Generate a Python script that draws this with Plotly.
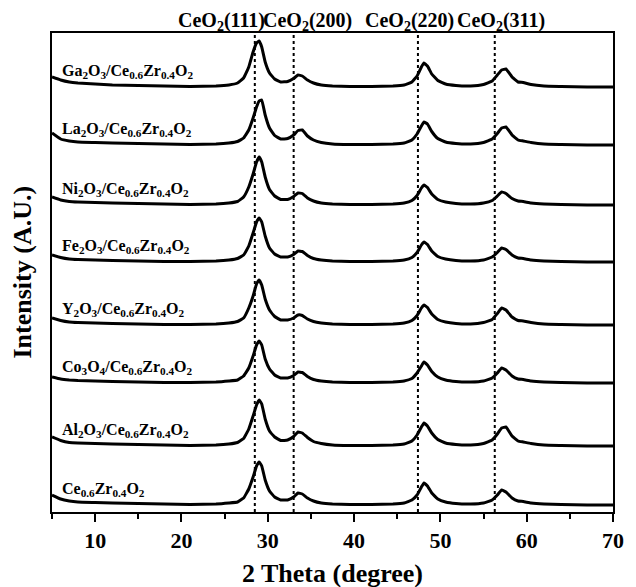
import plotly.graph_objects as go

# 2-theta sampling positions (degree)
two_theta = [5, 6, 7, 8, 10, 12, 15, 18, 21, 24, 25.5, 26.5, 27.2, 27.8, 28.3, 28.7, 29.0, 29.3, 29.7, 30.2,
             30.8, 31.5, 32.3, 33.0, 33.5, 34.0, 34.6, 35.3, 36.2, 37.5, 39.5, 42, 44.5, 45.8, 46.7, 47.3,
             47.8, 48.1, 48.5, 49.0, 49.7, 50.6, 51.8, 53.5, 55.0, 56.0, 56.6, 57.1, 57.6, 58.3, 59.0, 59.6,
             60.5, 62, 64, 67, 70]

# sample names, bottom to top
labels = [
    "Ce<sub>0.6</sub>Zr<sub>0.4</sub>O<sub>2</sub>",
    "Al<sub>2</sub>O<sub>3</sub>/Ce<sub>0.6</sub>Zr<sub>0.4</sub>O<sub>2</sub>",
    "Co<sub>3</sub>O<sub>4</sub>/Ce<sub>0.6</sub>Zr<sub>0.4</sub>O<sub>2</sub>",
    "Y<sub>2</sub>O<sub>3</sub>/Ce<sub>0.6</sub>Zr<sub>0.4</sub>O<sub>2</sub>",
    "Fe<sub>2</sub>O<sub>3</sub>/Ce<sub>0.6</sub>Zr<sub>0.4</sub>O<sub>2</sub>",
    "Ni<sub>2</sub>O<sub>3</sub>/Ce<sub>0.6</sub>Zr<sub>0.4</sub>O<sub>2</sub>",
    "La<sub>2</sub>O<sub>3</sub>/Ce<sub>0.6</sub>Zr<sub>0.4</sub>O<sub>2</sub>",
    "Ga<sub>2</sub>O<sub>3</sub>/Ce<sub>0.6</sub>Zr<sub>0.4</sub>O<sub>2</sub>",
]

# stacking offsets of each pattern (a.u.)
offsets = [7, 66, 129, 187, 250, 307, 367, 425]

# intensities above each pattern's baseline (a.u.)
ce_zr = [10, 6, 4, 3, 2.5, 2, 1.5, 1, 0.5, 1, 2, 3, 7, 16, 28, 39, 43, 39, 25, 14, 8, 5, 5, 8, 12, 11, 7, 4, 2, 1,
         0.5, 0.5, 1, 2, 5, 10, 18, 22, 19, 12, 6, 3, 1.5, 1, 2, 5, 10, 15, 13, 7, 4, 3.5, 2, 1, 0.5, 0, 0]
al2o3 = [9, 5.5, 3.5, 3, 2.5, 2, 1.5, 1, 0.5, 1, 2, 3.5, 7.5, 17, 30, 41, 46, 42, 27, 15, 9, 5.5, 6, 9.5, 14, 13,
         8.5, 4.5, 2.5, 1, 0.5, 0.5, 1, 2, 5, 11, 19, 23, 20, 13, 6.5, 3, 1.5, 1, 2.5, 6, 12, 18, 19, 10, 5, 4,
         2.5, 1, 0.5, 0, 0]
co3o4 = [6, 4, 3, 2.5, 2, 1.5, 1, 0.5, 0.5, 1, 2, 3, 7, 15, 27, 38, 42, 38, 24, 14, 8, 5, 5, 7.5, 11, 10.5, 6.5,
         3.5, 2, 1, 0.5, 0.5, 1, 2, 4.5, 10, 17, 21, 18, 11.5, 6, 3, 1.5, 1, 2, 5, 10, 15, 13, 7, 4, 3.5, 2, 1,
         0.5, 0, 0]
y2o3 = [7, 4.5, 3, 2.5, 2, 1.5, 1, 0.5, 0.5, 1, 2, 3.5, 7, 17, 29, 41, 45, 40, 26, 15, 8.5, 5, 5, 7, 10, 9.5, 6,
        3.5, 2, 1, 0.5, 0.5, 1, 2, 4.5, 9.5, 17, 20, 17.5, 11, 5.5, 3, 1.5, 1, 2.5, 5.5, 11.5, 17, 15, 8, 4.5, 4,
        2.5, 1, 0.5, 0, 0]
fe2o3 = [7, 4.5, 3, 2.5, 2, 1.5, 1, 0.5, 0.5, 1, 2, 3.5, 7, 16, 29, 40, 44, 40, 26, 14, 8, 5, 5, 7.5, 11, 10.5,
         6.5, 3.5, 2, 1, 0.5, 0.5, 1, 2, 4.5, 9.5, 17, 20, 17.5, 11, 5.5, 3, 1.5, 1, 2, 5, 9.5, 14, 12.5, 7, 4,
         3.5, 2, 1, 0.5, 0, 0]
ni2o3 = [8, 5, 3.5, 3, 2.5, 2, 1.5, 1, 0.5, 1, 2, 3.5, 8, 18, 31, 43, 48, 43, 28, 15.5, 9, 5.5, 5.5, 8.5, 12,
         11.5, 7, 4, 2, 1, 0.5, 0.5, 1, 2, 4.5, 9.5, 17, 20, 17.5, 11, 5.5, 3, 1.5, 1, 2, 4.5, 9, 13, 11.5, 6.5,
         4, 3.5, 2, 1, 0.5, 0, 0]
la2o3 = [12, 6, 4, 3, 2.5, 2, 1.5, 1, 0.5, 1, 2, 3.5, 7, 15, 27, 38, 44, 45, 30, 17, 9.5, 6, 6.5, 10, 14.5, 15,
         9, 5, 2.5, 1, 0.5, 0.5, 1, 2, 5, 11, 19, 23, 21, 13.5, 6.5, 3, 1.5, 1, 2.5, 6, 11.5, 17, 18, 10, 5, 4,
         2.5, 1, 0.5, 0, 0]
ga2o3 = [10, 7, 5, 4, 3, 2, 1.5, 1, 0.5, 1, 2, 4, 9, 20, 35, 44, 46, 40, 25, 14, 8, 5, 5.5, 8.5, 12, 11, 7, 4, 2,
         1, 0.5, 0.5, 1, 2, 5, 11, 20, 24, 21, 13, 6.5, 3, 1.5, 1, 2.5, 6, 12, 17, 18, 10, 5, 4.5, 2.5, 1, 0.5, 0,
         0]

patterns = [ce_zr, al2o3, co3o4, y2o3, fe2o3, ni2o3, la2o3, ga2o3]

# CeO2 reference reflections
ref_positions = [28.5, 33.0, 47.4, 56.3]
ref_labels = ["CeO<sub>2</sub>(111)", "CeO<sub>2</sub>(200)", "CeO<sub>2</sub>(220)", "CeO<sub>2</sub>(311)"]
ref_label_x = [24.6, 34.6, 46.4, 57.0]

for p in patterns:
    assert len(p) == len(two_theta), len(p)

FONT = "Liberation Serif, Times New Roman, serif"

fig = go.Figure()
for name, off, pat in zip(labels, offsets, patterns):
    fig.add_trace(go.Scatter(
        x=two_theta, y=[off + v for v in pat], mode="lines",
        line=dict(color="black", width=3, shape="spline", smoothing=0.3),
        showlegend=False, hoverinfo="skip"))

for xp in ref_positions:
    fig.add_shape(type="line", xref="x", yref="paper", x0=xp, x1=xp, y0=0, y1=1,
                  line=dict(color="black", width=2, dash="dot"), layer="below")

annotations = []
for name, off in zip(labels, offsets):
    annotations.append(dict(x=5.9, y=off + 16, xref="x", yref="y", text=name, showarrow=False,
                            xanchor="left", yanchor="middle",
                            font=dict(family=FONT, size=16, color="black", weight="bold")))
for lx, lt in zip(ref_label_x, ref_labels):
    annotations.append(dict(x=lx, y=1, xref="x", yref="paper", yshift=12, text=lt, showarrow=False,
                            xanchor="center", yanchor="middle",
                            font=dict(family=FONT, size=20, color="black", weight="bold")))
annotations.append(dict(x=0.5, y=0, xref="paper", yref="paper", yshift=-61, text="2 Theta (degree)",
                        showarrow=False, xanchor="center", yanchor="middle",
                        font=dict(family=FONT, size=26, color="black", weight="bold")))
annotations.append(dict(x=0, y=0.5, xref="paper", yref="paper", xshift=-30, text="Intensity (A.U.)",
                        showarrow=False, xanchor="center", yanchor="middle", textangle=-90,
                        font=dict(family=FONT, size=26, color="black", weight="bold")))

fig.update_layout(
    width=636, height=587,
    margin=dict(l=52, r=13, t=33, b=75),
    paper_bgcolor="white", plot_bgcolor="white",
    annotations=annotations,
    xaxis=dict(range=[5, 70], tick0=0, dtick=10, ticks="outside", ticklen=8, tickwidth=2,
               tickcolor="black", showline=True, linewidth=2, linecolor="black", mirror=True,
               showgrid=False, zeroline=False,
               minor=dict(ticks="outside", dtick=5, tick0=0, ticklen=5, tickwidth=2, tickcolor="black"),
               tickfont=dict(family=FONT, size=22, color="black", weight="bold")),
    yaxis=dict(range=[0, 479], showticklabels=False, ticks="", showline=True, linewidth=2,
               linecolor="black", mirror=True, showgrid=False, zeroline=False),
)

fig.write_html("out.html")
